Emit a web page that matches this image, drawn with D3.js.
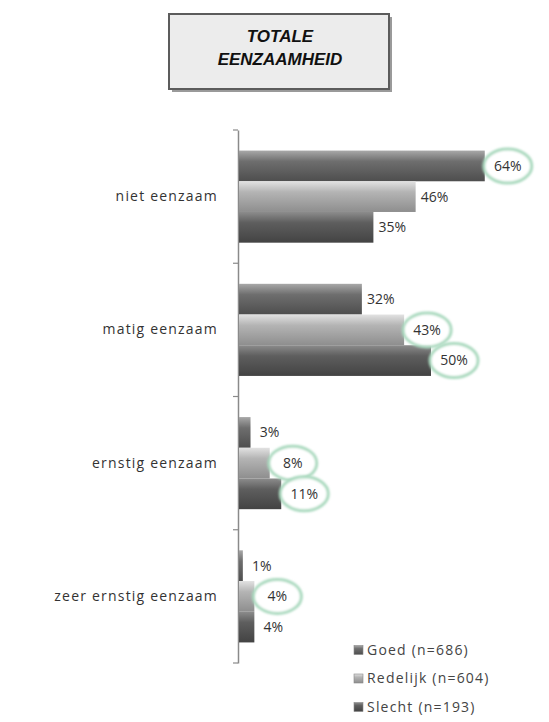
<html lang="en">
<head>
<meta charset="UTF-8">
<script src="https://d3js.org/d3.v7.min.js"></script>
<style>
    body { margin: 0; background: #fff; }
    text { font-family: "Open Sans", sans-serif; }
</style>
</head>
<body>
<div id="here"></div>
<script>
    // data
    const categories = ["niet eenzaam", "matig eenzaam", "ernstig eenzaam", "zeer ernstig eenzaam"];
    const seriesNames = ["Goed (n=686)", "Redelijk (n=604)", "Slecht (n=193)"];
    const goed = [64, 32, 3, 1];
    const redelijk = [46, 43, 8, 4];
    const slecht = [35, 50, 11, 4];
    // which labels carry the green circle in the original
    const circled = [[1, 0, 0, 0], [0, 1, 1, 1], [0, 1, 1, 0]];

    const values = [goed, redelijk, slecht];
    const W = 549, H = 722;

    const svg = d3.select("#here").append("svg")
        .attr("width", W).attr("height", H);

    // gradients that give the bars their rounded look
    const grads = [
        ["g0", "#a8a8a8", "#6e6e6e", "#4e4e4e"],
        ["g1", "#e2e2e2", "#b4b4b4", "#8e8e8e"],
        ["g2", "#8c8c8c", "#5e5e5e", "#434343"]
    ];
    const defs = svg.append("defs");
    grads.forEach(g => {
        const lg = defs.append("linearGradient").attr("id", g[0])
            .attr("x1", 0).attr("y1", 0).attr("x2", 0).attr("y2", 1);
        lg.append("stop").attr("offset", "0%").attr("stop-color", g[1]);
        lg.append("stop").attr("offset", "35%").attr("stop-color", g[2]);
        lg.append("stop").attr("offset", "100%").attr("stop-color", g[3]);
    });
    defs.append("filter").attr("id", "soft")
        .append("feGaussianBlur").attr("stdDeviation", 0.9);

    // title box
    svg.append("rect").attr("x", 172).attr("y", 17).attr("width", 220).attr("height", 75)
        .attr("fill", "#9a9a9a");
    svg.append("rect").attr("x", 169).attr("y", 14).attr("width", 220).attr("height", 75)
        .attr("fill", "#ececec").attr("stroke", "#5c5c5c").attr("stroke-width", 2);
    ["TOTALE", "EENZAAMHEID"].forEach((t, i) => {
        svg.append("text").attr("x", 280).attr("y", 42 + i * 23)
            .attr("text-anchor", "middle")
            .style("font-family", "'Liberation Sans', Arial, sans-serif")
            .style("font-weight", "bold").style("font-style", "italic")
            .style("font-size", "17px").attr("fill", "#111").text(t);
    });

    const x = d3.scaleLinear().domain([0, 100]).range([238, 622]);
    const y = d3.scaleBand().domain(categories).range([130, 663]);
    const ys = d3.scaleBand().domain(d3.range(seriesNames.length))
        .range([0, y.bandwidth()]).paddingOuter(0.67).paddingInner(0);

    // axis with category labels
    const axis = svg.append("g").attr("transform", "translate(238,0)")
        .call(d3.axisLeft(y).tickSize(0).tickPadding(20));
    axis.select(".domain").attr("stroke", "#8a8a8a").attr("stroke-width", 1.5);
    axis.selectAll(".tick text").style("font-size", "14px")
        .style("letter-spacing", "1.2px").attr("fill", "#333");

    // ticks between categories
    const bounds = categories.map(c => y(c)).concat([y.range()[1]]);
    svg.selectAll("line.tk").data(bounds).enter().append("line")
        .attr("x1", 233).attr("x2", 238)
        .attr("y1", d => d).attr("y2", d => d)
        .attr("stroke", "#8a8a8a").attr("stroke-width", 1.2);

    // bars
    values.forEach((vals, s) => {
        svg.append("g").selectAll("rect").data(vals).enter().append("rect")
            .attr("x", x(0) + 1)
            .attr("y", (d, i) => y(categories[i]) + ys(s))
            .attr("width", d => x(d) - x(0))
            .attr("height", ys.bandwidth())
            .attr("fill", "url(#g" + s + ")");
    });

    // data labels and circles
    values.forEach((vals, s) => {
        vals.forEach((v, i) => {
            const ly = y(categories[i]) + ys(s) + ys.bandwidth() / 2;
            const lx = circled[s][i] ? x(v) + 24 : x(v) + 20;
            if (circled[s][i]) {
                svg.append("ellipse").attr("cx", lx).attr("cy", ly)
                    .attr("rx", 24).attr("ry", 17)
                    .attr("fill", "#fff").attr("fill-opacity", 0.85)
                    .attr("stroke", "#a9d9be").attr("stroke-width", 3)
                    .attr("filter", "url(#soft)");
            }
            svg.append("text").attr("x", lx).attr("y", ly)
                .attr("dy", "0.35em").attr("text-anchor", "middle")
                .style("font-size", "14px").attr("fill", "#333")
                .text(v + "%");
        });
    });

    // legend
    const leg = svg.append("g");
    seriesNames.forEach((n, i) => {
        const ly = 650 + i * 28.5;
        leg.append("rect").attr("x", 354).attr("y", ly - 4.5).attr("width", 9).attr("height", 9)
            .attr("fill", "url(#g" + i + ")").attr("stroke", "#888").attr("stroke-width", 0.6);
        leg.append("text").attr("x", 367).attr("y", ly).attr("dy", "0.35em")
            .style("font-size", "14px").style("letter-spacing", "1.2px")
            .attr("fill", "#444").text(n);
    });
</script>
</body>
</html>
